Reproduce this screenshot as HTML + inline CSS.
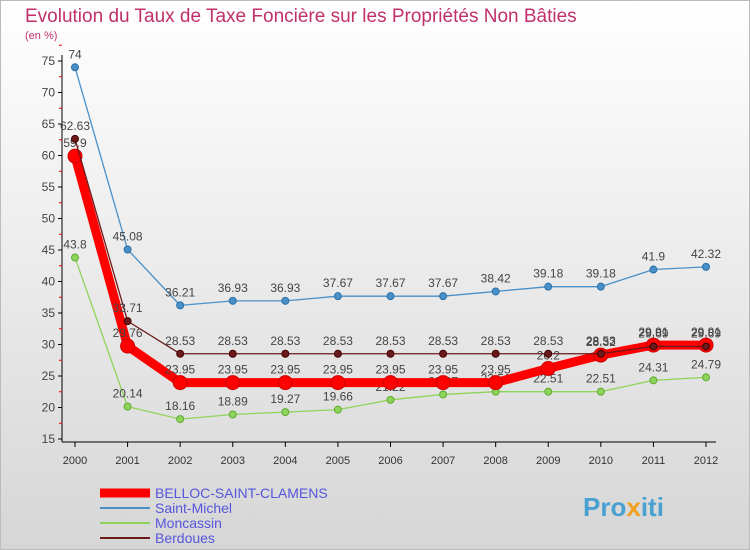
<!DOCTYPE html>
<html><head><meta charset="utf-8"><style>
body{margin:0;width:750px;height:550px;overflow:hidden;font-family:"Liberation Sans",sans-serif}
#bg{position:absolute;left:0;top:0;width:748px;height:548px;border:1px solid #bbb;background:linear-gradient(#fff,#d6d6d6)}
</style></head><body>
<div id="bg"></div>
<svg id="c" width="750" height="550" style="position:absolute;left:0;top:0">
<text x="25" y="22" font-size="19" fill="#c0306a">Evolution du Taux de Taxe Foncière sur les Propriétés Non Bâties</text>
<text x="25" y="39" font-size="11" fill="#c0306a">(en %)</text>
</svg>
<script>
const years=[2000,2001,2002,2003,2004,2005,2006,2007,2008,2009,2010,2011,2012];
const belloc=[59.9,29.76,23.95,23.95,23.95,23.95,23.95,23.95,23.95,26.2,28.32,29.91,29.91];
const stmichel=[74,45.08,36.21,36.93,36.93,37.67,37.67,37.67,38.42,39.18,39.18,41.9,42.32];
const moncassin=[43.8,20.14,18.16,18.89,19.27,19.66,21.22,22.07,22.51,22.51,22.51,24.31,24.79];
const berdoues=[62.63,33.71,28.53,28.53,28.53,28.53,28.53,28.53,28.53,28.53,28.53,29.69,29.69];
const yTicks=[15,20,25,30,35,40,45,50,55,60,65,70,75];
const NS="http://www.w3.org/2000/svg",svg=document.getElementById('c');
const x=i=>75+i*(706-75)/(years.length-1);
const y=v=>439-(v-15)*6.3;
function el(t,a,p){const e=document.createElementNS(NS,t);for(const k in a)e.setAttribute(k,a[k]);(p||svg).appendChild(e);return e;}
const ax=el('line',{x1:62,y1:55,x2:62,y2:442,stroke:'#000'});


const bx=el('line',{x1:62,y1:442,x2:716,y2:442,stroke:'#000'});


yTicks.forEach(v=>{
 el('line',{x1:58,y1:y(v),x2:62,y2:y(v),stroke:'#000'});
 el('line',{x1:59,y1:y(v+2.5),x2:62,y2:y(v+2.5),stroke:'#e00'});
 const t=el('text',{x:55,y:y(v)+4,'font-size':12,fill:'#444','text-anchor':'end'});t.textContent=v;
 
 
});
years.forEach((yr,i)=>{
 el('line',{x1:x(i),y1:442,x2:x(i),y2:447,stroke:'#000'});
 const t=el('text',{x:x(i),y:464,'font-size':11,fill:'#333','text-anchor':'middle'});t.textContent=yr;
 
 
});
function series(d,col,w,r,name,dark){
 const g=el('g',{});
 
 
 el('polyline',{points:d.map((v,i)=>x(i)+','+y(v)).join(' '),fill:'none',stroke:col,'stroke-width':w,'stroke-linejoin':'round'},g);
 d.forEach((v,i)=>{
  const c=el('circle',{cx:x(i),cy:y(v),r:r,fill:col,stroke:dark,'stroke-width':1},g);
  
  
  const t=el('text',{x:x(i),y:y(v)-9,'font-size':12,fill:'#444','text-anchor':'middle'},g);t.textContent=v;
 });
}
series(stmichel,'#4a90c8',1.3,3.5,'saint-michel-series','#2a70a8');
series(moncassin,'#8fd45a',1.3,3.5,'moncassin-series','#60a830');
series(belloc,'#f00',9,7,'belloc-series','#c00');
series(berdoues,'#6a1a1a',1.3,3.5,'berdoues-series','#400');
const leg=[['BELLOC-SAINT-CLAMENS','#f00',9],['Saint-Michel','#4a90c8',2],['Moncassin','#8fd45a',2],['Berdoues','#6a1a1a',2]];
leg.forEach((l,i)=>{
 const g=el('g',{});
 
 
 const yy=493+i*15;
 el('line',{x1:100,y1:yy,x2:150,y2:yy,stroke:l[1],'stroke-width':l[2]},g);
 const t=el('text',{x:155,y:yy+5,'font-size':14,fill:'#5555dd'},g);t.textContent=l[0];
});
const lg=el('text',{x:583,y:516,'font-size':26,'font-weight':'bold',fill:'#4aa0d0'});


lg.innerHTML='Pro<tspan fill="#f0a020">x</tspan>iti';
</script>
</body></html>
